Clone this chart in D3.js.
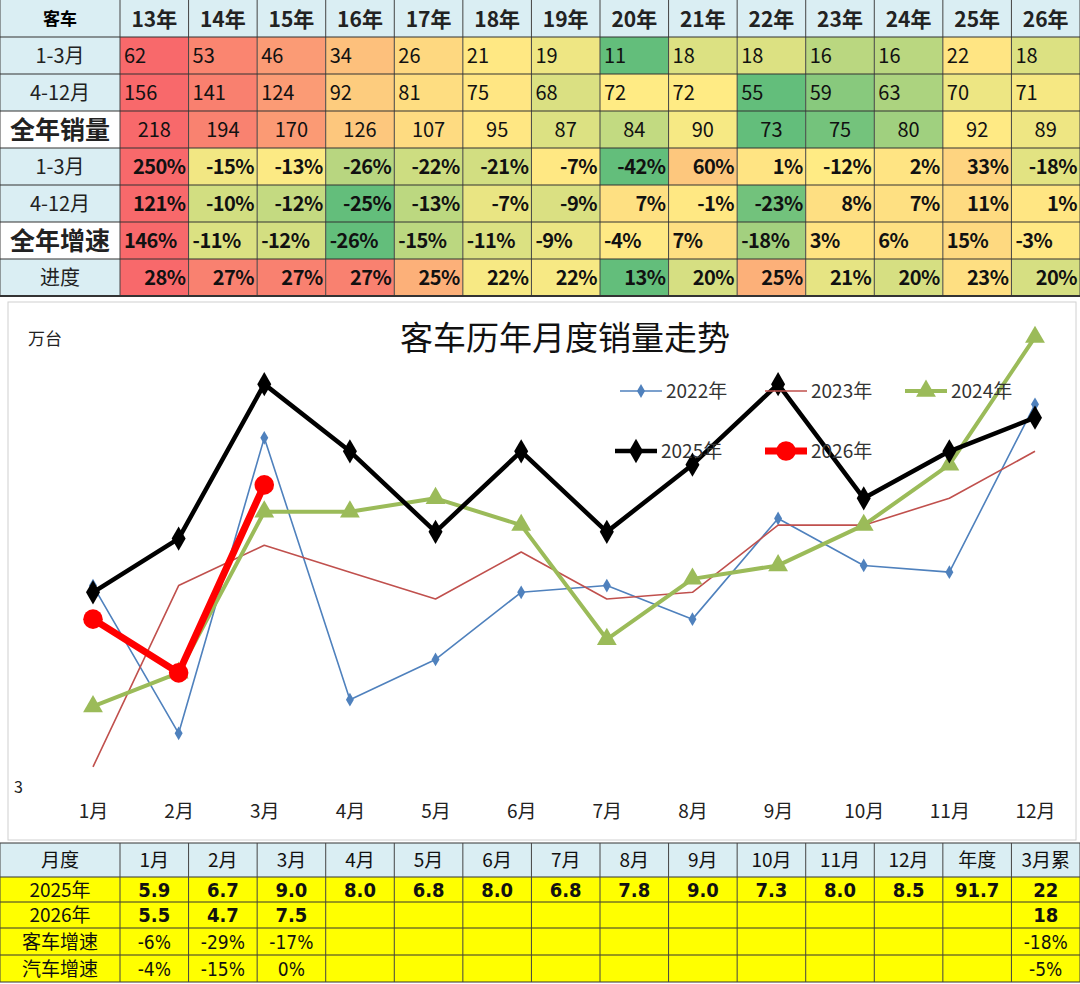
<!DOCTYPE html>
<html>
<head>
<meta charset="utf-8">
<script src="https://d3js.org/d3.v7.min.js"></script>
<style>
  body {margin:0; background:#fff; font-family:'Noto Sans CJK SC', sans-serif;}
</style>
</head>
<body>
<svg id="c" width="1080" height="984"></svg>
<script>
'use strict'

// top table
var years = ["13年","14年","15年","16年","17年","18年","19年","20年","21年","22年","23年","24年","25年","26年"];
var q1 = [62,53,46,34,26,21,19,11,18,18,16,16,22,18];
var q2to4 = [156,141,124,92,81,75,68,72,72,55,59,63,70,71];
var total = [218,194,170,126,107,95,87,84,90,73,75,80,92,89];
var q1Growth = [250,-15,-13,-26,-22,-21,-7,-42,60,1,-12,2,33,-18];
var q2to4Growth = [121,-10,-12,-25,-13,-7,-9,7,-1,-23,8,7,11,1];
var totalGrowth = [146,-11,-12,-26,-15,-11,-9,-4,7,-18,3,6,15,-3];
var progress = [28,27,27,27,25,22,22,13,20,25,21,20,23,20];

// chart
var months = ["1月","2月","3月","4月","5月","6月","7月","8月","9月","10月","11月","12月"];
var s2022 = [6.0,3.8,8.2,4.3,4.9,5.9,6.0,5.5,7.0,6.3,6.2,8.7];
var s2023 = [3.3,6.0,6.6,6.2,5.8,6.5,5.8,5.9,6.9,6.9,7.3,8.0];
var s2024 = [4.2,4.7,7.1,7.1,7.3,6.9,5.2,6.1,6.3,6.9,7.8,9.7];
var s2025 = [5.9,6.7,9.0,8.0,6.8,8.0,6.8,7.8,9.0,7.3,8.0,8.5];
var s2026 = [5.5,4.7,7.5];

// bottom table
var bottomHeader = ["月度","1月","2月","3月","4月","5月","6月","7月","8月","9月","10月","11月","12月","年度","3月累"];
var row2025 = ["2025年","5.9","6.7","9.0","8.0","6.8","8.0","6.8","7.8","9.0","7.3","8.0","8.5","91.7","22"];
var row2026 = ["2026年","5.5","4.7","7.5","","","","","","","","","","","18"];
var rowBus = ["客车增速","-6%","-29%","-17%","","","","","","","","","","","-18%"];
var rowAuto = ["汽车增速","-4%","-15%","0%","","","","","","","","","","","-5%"];

var svg = d3.select("#c");
var x0 = 120, cw = (1080-120)/14;
var colX = d3.scaleLinear().domain([0,14]).range([x0,1080]);
var blue = "#daeef3";

function heat(vals) {
  var s = vals.slice().sort((a,b)=>a-b);
  return d3.scaleLinear().domain([s[0], d3.median(s), s[s.length-1]])
    .range(["#63be7b","#ffeb84","#f8696b"]);
}

// ---- top table
var rh = 37;
svg.append("rect").attr("x",0).attr("y",0).attr("width",1080).attr("height",rh).attr("fill",blue);
svg.append("text").attr("x",60).attr("y",rh/2+6).attr("text-anchor","middle").attr("font-size",17).attr("font-weight","bold").text("客车");
years.forEach((y,i)=>{
  svg.append("text").attr("x",colX(i)+cw/2).attr("y",rh/2+8).attr("text-anchor","middle")
    .attr("font-size",21).attr("font-weight","bold").attr("fill","#222").text(y);
});

var rows = [
  {label:"1-3月", vals:q1, fmt:d=>d, align:"start", big:false},
  {label:"4-12月", vals:q2to4, fmt:d=>d, align:"start", big:false},
  {label:"全年销量", vals:total, fmt:d=>d, align:"middle", big:true},
  {label:"1-3月", vals:q1Growth, fmt:d=>d+"%", align:"end", big:false},
  {label:"4-12月", vals:q2to4Growth, fmt:d=>d+"%", align:"end", big:false},
  {label:"全年增速", vals:totalGrowth, fmt:d=>d+"%", align:"start", big:true},
  {label:"进度", vals:progress, fmt:d=>d+"%", align:"end", big:false}
];
rows.forEach((r,ri)=>{
  var y = rh*(ri+1);
  var c = heat(r.vals);
  svg.append("rect").attr("x",0).attr("y",y).attr("width",x0).attr("height",rh).attr("fill", r.big ? "#fff" : blue);
  svg.append("text").attr("x",60).attr("y",y+rh/2+(r.big?9:7)).attr("text-anchor","middle")
    .attr("font-size", r.big?25:20).attr("font-weight", r.big?"bold":"normal").attr("fill","#222").text(r.label);
  r.vals.forEach((v,i)=>{
    svg.append("rect").attr("x",colX(i)).attr("y",y).attr("width",cw).attr("height",rh).attr("fill",c(v));
    var tx = r.align=="start" ? colX(i)+4 : r.align=="end" ? colX(i)+cw-3 : colX(i)+cw/2;
    svg.append("text").attr("x",tx).attr("y",y+rh/2+7).attr("text-anchor",r.align)
      .attr("font-size",20).attr("font-weight", ri>=3 ? "bold":"normal").attr("fill","#111")
      .attr("letter-spacing", ri>=3 ? -0.5 : 0).text(r.fmt(v));
  });
});
// grid lines
d3.range(0,16).forEach(i=>{
  var gx = i==0 ? 0 : colX(i-1);
  svg.append("line").attr("x1",gx).attr("x2",gx).attr("y1",0).attr("y2",rh*8).attr("stroke","#444").attr("stroke-width",1);
});
d3.range(1,9).forEach(i=>{
  svg.append("line").attr("x1",0).attr("x2",1080).attr("y1",rh*i).attr("y2",rh*i).attr("stroke","#333").attr("stroke-width",i==8?2:1.2);
});

// ---- chart
var cy0 = 300, cy1 = 842;
svg.append("rect").attr("x",8).attr("y",cy0+2).attr("width",1068).attr("height",cy1-cy0-4)
  .attr("fill","#fff").attr("stroke","#d0d0d0");
var x = d3.scalePoint().domain(months).range([93,1035]);
var y = d3.scaleLinear().domain([3,10]).range([787,317]);

svg.append("text").attr("x",565).attr("y",350).attr("text-anchor","middle").attr("font-size",33).attr("fill","#111").text("客车历年月度销量走势");
svg.append("text").attr("x",28).attr("y",345).attr("font-size",17).attr("fill","#222").text("万台");
svg.append("text").attr("x",14).attr("y",y(3)+6).attr("font-size",16).attr("fill","#222").text("3");

var xAxis = svg.append("g").attr("transform","translate(0,"+(y(3)+14)+")")
  .call(d3.axisBottom(x).tickSize(0));
xAxis.select(".domain").remove();
xAxis.selectAll("text").attr("font-size",19).attr("fill","#222").attr("font-family","'Noto Sans CJK SC', sans-serif");

var line = d3.line().x((d,i)=>x(months[i])).y(d=>y(d));
var series = [
  {name:"2022年", data:s2022, color:"#4f81bd", w:1.6, sym:d3.symbolDiamond, size:55},
  {name:"2023年", data:s2023, color:"#c0504d", w:1.6, sym:null},
  {name:"2024年", data:s2024, color:"#9bbb59", w:4, sym:d3.symbolTriangle, size:170},
  {name:"2025年", data:s2025, color:"#000000", w:4.5, sym:d3.symbolDiamond, size:170},
  {name:"2026年", data:s2026, color:"#ff0000", w:7, sym:d3.symbolCircle, size:300}
];
series.forEach(s=>{
  svg.append("path").datum(s.data).attr("d",line).attr("fill","none")
    .attr("stroke",s.color).attr("stroke-width",s.w).attr("stroke-linejoin","round");
  if (s.sym) {
    svg.selectAll(null).data(s.data).enter().append("path")
      .attr("d",d3.symbol().type(s.sym).size(s.size))
      .attr("transform",(d,i)=>"translate("+x(months[i])+","+y(d)+")")
      .attr("fill",s.color);
  }
});

// legend
var legendPos = [[620,391],[765,391],[905,391],[615,451],[765,451]];
series.forEach((s,i)=>{
  var p = legendPos[i], g = svg.append("g").attr("transform","translate("+p[0]+","+p[1]+")");
  g.append("line").attr("x1",0).attr("x2",42).attr("stroke",s.color).attr("stroke-width",s.w);
  if (s.sym) g.append("path").attr("d",d3.symbol().type(s.sym).size(s.size)).attr("transform","translate(21,0)").attr("fill",s.color);
  g.append("text").attr("x",46).attr("y",7).attr("font-size",19).attr("fill","#333").text(s.name);
});

// ---- bottom table
var by = 843, bh = [34,25,26,27,27];
var bRows = [bottomHeader,row2025,row2026,rowBus,rowAuto];
var yy = by;
bRows.forEach((r,ri)=>{
  svg.append("rect").attr("x",0).attr("y",yy).attr("width",1080).attr("height",bh[ri]).attr("fill", ri==0 ? blue : "#ffff00");
  r.forEach((t,i)=>{
    var cx = i==0 ? 60 : colX(i-1)+cw/2;
    var bold = (ri==1||ri==2) && i>0;
    svg.append("text").attr("x",cx).attr("y",yy+bh[ri]/2+7).attr("text-anchor","middle")
      .attr("font-size", bold?20:19).attr("font-weight", bold?"bold":"normal")
      .attr("font-family", i==0||ri==0 ? "'Noto Sans CJK SC', sans-serif" : "'DejaVu Sans Condensed', sans-serif")
      .attr("fill","#111").text(t);
  });
  svg.append("line").attr("x1",0).attr("x2",1080).attr("y1",yy).attr("y2",yy).attr("stroke","#333");
  yy += bh[ri];
});
svg.append("line").attr("x1",0).attr("x2",1080).attr("y1",yy).attr("y2",yy).attr("stroke","#333");
d3.range(0,16).forEach(i=>{
  var gx = i==0 ? 0 : colX(i-1);
  svg.append("line").attr("x1",gx).attr("x2",gx).attr("y1",by).attr("y2",yy).attr("stroke","#444");
});
</script>
</body>
</html>
